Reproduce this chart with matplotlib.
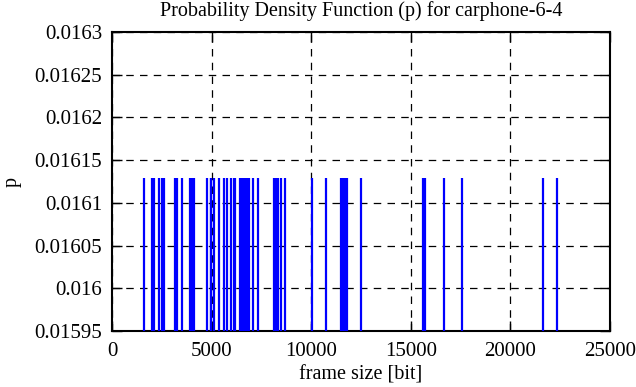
import matplotlib
matplotlib.use("Agg")
import matplotlib.pyplot as plt
import numpy as np
from matplotlib.ticker import FuncFormatter

# frame sizes [bit], each with the same probability
frame_sizes = [1625, 2026, 2091, 2352, 2492, 2560, 2618, 3144, 3245, 3535,
               3932, 4032, 4132, 4774, 4950, 4985, 5140, 5351, 5637, 5752,
               5953, 6103, 6188, 6404, 6454, 6504, 6555, 6605, 6655, 6705,
               6756, 6806, 6856, 7071, 7342, 8109, 8159, 8209, 8260, 8310,
               8475, 8661, 10050, 10752, 11504, 11555, 11605, 11655, 11705,
               11785, 12522, 15632, 15697, 16669, 17572, 21635, 22337]
p_value = 1.0 / 62

x_ticks = [0, 5000, 10000, 15000, 20000, 25000]
y_ticks = [0.01595, 0.016, 0.01605, 0.0161, 0.01615, 0.0162, 0.01625, 0.0163]

plt.rcParams['font.family'] = ['Liberation Serif', 'DejaVu Serif']

fig = plt.figure(figsize=(6.36, 3.87), dpi=100)
ax = fig.add_axes([112 / 636, 56 / 387, 498 / 636, 299 / 387])

ax.vlines(frame_sizes, y_ticks[0], p_value, colors='#0000ff', linewidth=1.6, zorder=3)

ax.set_xlim(0, 25000)
ax.set_ylim(0.01595, 0.0163)
ax.set_xticks(x_ticks)
ax.set_yticks(y_ticks)
ax.yaxis.set_major_formatter(FuncFormatter(lambda v, _: '%g' % v))
ax.tick_params(direction='in', length=7, width=1, labelsize=15,
               top=True, right=True)
ax.tick_params(axis='x', pad=8)
ax.tick_params(axis='y', pad=7)
ax.grid(True, color='black', linestyle=(0, (6, 5)), linewidth=0.9)
for s in ax.spines.values():
    s.set_linewidth(1.5)

fig.text(361 / 636, 1 - 11 / 387, "Probability Density Function (p) for carphone-6-4",
         fontsize=14.5, ha='center', va='center')
ax.set_xlabel("frame size [bit]", fontsize=14.5, labelpad=3)
fig.text(12 / 636, 1 - 182 / 387, "p", fontsize=14.5, rotation=90,
         ha='center', va='center')

fig.savefig("out.png", dpi=100)
